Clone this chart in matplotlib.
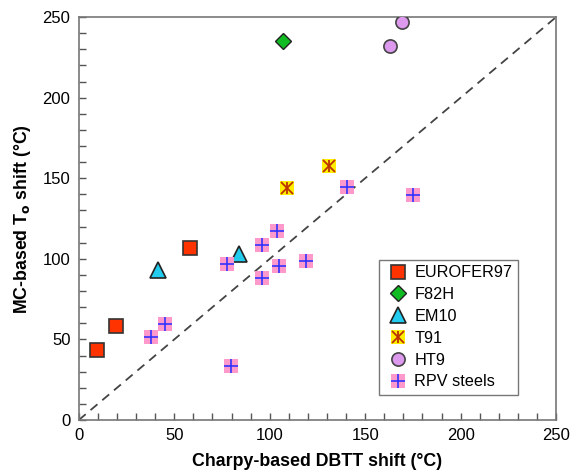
import matplotlib.pyplot as plt
from matplotlib.legend_handler import HandlerTuple

plt.rcParams['font.family'] = ['Liberation Sans', 'DejaVu Sans']

# Charpy DBTT shift (x) vs MC-based To shift (y), degC
eurofer_x = [9.6, 19.6, 58.5]
eurofer_y = [43.4, 58.5, 106.5]
f82h_x = [106.7]
f82h_y = [234.9]
em10_x = [41.6, 84.0]
em10_y = [93.0, 103.0]
t91_x = [108.8, 130.9]
t91_y = [143.7, 157.8]
ht9_x = [163.0, 169.1]
ht9_y = [232.2, 247.0]
rpv_x = [37.6, 44.9, 79.8, 77.7, 95.9, 95.9, 103.9, 105.0, 119.0, 140.3, 175.2]
rpv_y = [51.3, 59.4, 33.7, 96.6, 108.6, 88.3, 117.4, 95.5, 98.6, 144.7, 139.6]

fig = plt.figure(figsize=(5.71, 4.76), dpi=100)
ax = fig.add_axes([0.138, 0.1176, 0.836, 0.8466])

ax.plot([0, 250], [0, 250], ls=(0, (5, 3.5)), color='#444444', lw=1.3, zorder=1)

ms = 10.5
h_eu, = ax.plot(eurofer_x, eurofer_y, 's', ms=ms, mfc='#ff3300', mec='#333333', mew=1.2, ls='none', zorder=3)
h_f8, = ax.plot(f82h_x, f82h_y, 'D', ms=8, mfc='#11bb22', mec='#222222', mew=1.0, ls='none', zorder=3)
h_em, = ax.plot(em10_x, em10_y, '^', ms=11, mfc='#22ccee', mec='#222222', mew=1.2, ls='none', zorder=3)
h_t9a, = ax.plot(t91_x, t91_y, 's', ms=ms, mfc='#ffee00', mec='#ffee00', mew=0, ls='none', zorder=3)
h_t9b, = ax.plot(t91_x, t91_y, 'x', ms=9, mec='#bb3300', mew=1.3, ls='none', zorder=4)
h_t9c, = ax.plot(t91_x, t91_y, '|', ms=9, mec='#bb3300', mew=1.3, ls='none', zorder=4)
h_ht, = ax.plot(ht9_x, ht9_y, 'o', ms=9.5, mfc='#dd99ee', mec='#444444', mew=1.2, ls='none', zorder=3)
h_rpa, = ax.plot(rpv_x, rpv_y, 's', ms=ms, mfc='#ff99cc', mec='#ff99cc', mew=0, ls='none', zorder=3)
h_rpb, = ax.plot(rpv_x, rpv_y, '+', ms=10, mec='#3333ff', mew=1.2, ls='none', zorder=4)

ax.set_xlim(0, 250)
ax.set_ylim(0, 250)
ax.set_xticks(range(0, 251, 50))
ax.set_yticks(range(0, 251, 50))
ax.set_xticks(range(0, 251, 10), minor=True)
ax.set_yticks(range(0, 251, 10), minor=True)
ax.tick_params(which='both', direction='in', length=5, width=1, color='#555555',
               labelsize=12, pad=6)
for s in ax.spines.values():
    s.set_color('#777777')
    s.set_linewidth(1.2)

ax.set_xlabel('Charpy-based DBTT shift (\u00b0C)', fontsize=12.8, fontweight='bold', labelpad=7)
ax.set_ylabel('MC-based T$_\\mathbf{o}$ shift (\u00b0C)', fontsize=12.8, fontweight='bold', labelpad=7)

leg = ax.legend([h_eu, h_f8, h_em, (h_t9a, h_t9b, h_t9c), h_ht, (h_rpa, h_rpb)],
                ['EUROFER97', 'F82H', 'EM10', 'T91', 'HT9', 'RPV steels'],
                handler_map={tuple: HandlerTuple(ndivide=1, pad=0)},
                loc='lower right', bbox_to_anchor=(0.92, 0.062),
                fontsize=11.7, frameon=True, fancybox=False, edgecolor='#555555',
                handlelength=1.6, handletextpad=0.2, labelspacing=0.42, borderpad=0.35,
                borderaxespad=0)
leg.get_frame().set_linewidth(1.0)

fig.savefig('out.png', dpi=100)
